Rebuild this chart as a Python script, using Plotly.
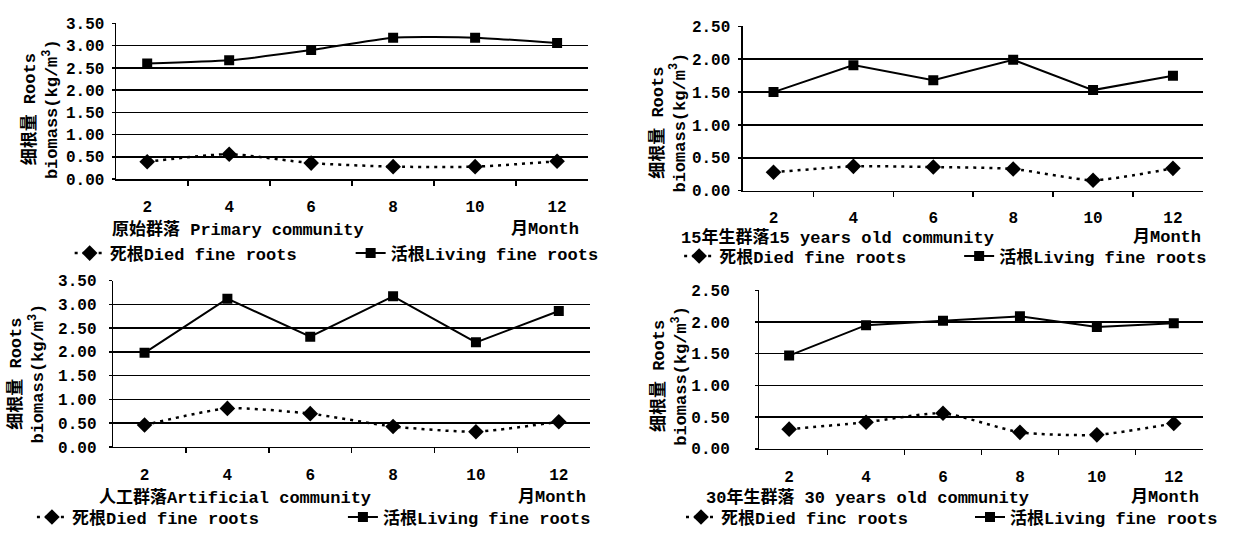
import plotly.graph_objects as go

W, H = 1259, 542

months = ["2", "4", "6", "8", "10", "12"]

p1_died = [0.39, 0.56, 0.36, 0.28, 0.28, 0.40]
p1_living = [2.60, 2.67, 2.90, 3.18, 3.18, 3.06]
p2_died = [0.28, 0.37, 0.36, 0.33, 0.16, 0.34]
p2_living = [1.50, 1.91, 1.68, 1.99, 1.53, 1.75]
p3_died = [0.46, 0.81, 0.70, 0.43, 0.32, 0.53]
p3_living = [1.98, 3.12, 2.32, 3.17, 2.20, 2.86]
p4_died = [0.31, 0.42, 0.56, 0.26, 0.22, 0.40]
p4_living = [1.47, 1.95, 2.02, 2.09, 1.92, 1.98]

titles = ["原始群落 Primary community", "15年生群落15 years old community",
          "人工群落Artificial community", "30年生群落 30 years old community"]
died_names = ["死根Died fine roots", "死根Died fine roots", "死根Died fine roots", "死根Died finc roots"]
living_name = "活根Living fine roots"
month_label = "月Month"
ytitle = "细根量 Roots<br>biomass(kg/m<sup>3</sup>)"

ticks_35 = [0, 0.5, 1.0, 1.5, 2.0, 2.5, 3.0, 3.5]
ticks_25 = [0, 0.5, 1.0, 1.5, 2.0, 2.5]

FONT = "Liberation Mono, Noto Sans CJK SC, monospace"

def px_x(v):
    return v / W

def px_y(v):
    return 1 - v / H

# panel geometry (pixels): x0, x1, ybottom, ytop
panels = [
    dict(x=(120, 608), y=(178, 17), ymax=3.5, ticks=ticks_35, died=p1_died, living=p1_living,
         living_shape="spline", standoff=4,
         title_pos=(114, 230), month_pos=(601, 230), yt_pos=(42, 106),
         leg_pos=(72, 255), entry=236),
    dict(x=(768, 1244), y=(190, 20), ymax=2.5, ticks=ticks_25, died=p2_died, living=p2_living,
         living_shape="linear", standoff=5,
         title_pos=(702, 238), month_pos=(1243, 238), yt_pos=(690, 120),
         leg_pos=(702, 258), entry=235),
    dict(x=(117, 610), y=(455, 283), ymax=3.5, ticks=ticks_35, died=p3_died, living=p3_living,
         living_shape="linear", standoff=9,
         title_pos=(100, 507), month_pos=(608, 507), yt_pos=(27, 379),
         leg_pos=(33, 528), entry=266),
    dict(x=(785, 1244), y=(457, 293), ymax=2.5, ticks=ticks_25, died=p4_died, living=p4_living,
         living_shape="linear", standoff=22,
         title_pos=(728, 507), month_pos=(1241, 507), yt_pos=(692, 381),
         leg_pos=(704, 528), entry=244),
]

fig = go.Figure()
layout = dict(
    width=W, height=H, margin=dict(l=0, r=0, t=0, b=0),
    paper_bgcolor="white", plot_bgcolor="white", showlegend=True,
    font=dict(family=FONT, size=15, color="black"),
)
annotations = []

for i, p in enumerate(panels):
    n = i + 1
    xa = "x" if n == 1 else f"x{n}"
    ya = "y" if n == 1 else f"y{n}"
    leg = "legend" if n == 1 else f"legend{n}"
    fig.add_trace(go.Scatter(
        x=months, y=p["died"], xaxis=xa, yaxis=ya, legend=leg,
        name=died_names[i], mode="lines+markers",
        line=dict(color="black", width=2.5, dash="3px,5px", shape="spline", smoothing=0.6),
        marker=dict(symbol="diamond", size=12, color="black"),
    ))
    fig.add_trace(go.Scatter(
        x=months, y=p["living"], xaxis=xa, yaxis=ya, legend=leg,
        name=living_name, mode="lines+markers",
        line=dict(color="black", width=2, shape=p["living_shape"], smoothing=0.5),
        marker=dict(symbol="square", size=10, color="black"),
    ))
    xdom = [px_x(p["x"][0]), px_x(p["x"][1])]
    ydom = [px_y(p["y"][0]), px_y(p["y"][1])]
    layout["xaxis" if n == 1 else f"xaxis{n}"] = dict(
        domain=xdom, anchor=ya, type="category", categoryorder="array", categoryarray=months,
        tickson="boundaries", ticks="outside", ticklen=5, tickwidth=1.5, tickcolor="black",
        showline=True, linecolor="black", linewidth=1.5, showgrid=False, zeroline=False,
        ticklabelstandoff=12,
        tickfont=dict(family=FONT, size=16, color="black", weight="bold"),
        fixedrange=True,
    )
    layout["yaxis" if n == 1 else f"yaxis{n}"] = dict(
        domain=ydom, anchor=xa, range=[0, p["ymax"]], tickvals=p["ticks"],
        ticktext=[f"{v:.2f}" for v in p["ticks"]],
        ticks="outside", ticklen=3, tickwidth=1.5, tickcolor="black",
        showline=True, linecolor="black", linewidth=1.5, showgrid=False, zeroline=False,
        ticklabelstandoff=p["standoff"],
        tickfont=dict(family=FONT, size=16, color="black", weight="bold"),
        fixedrange=True,
    )
    # grid-only overlay axis (gridlines at inner ticks, none at the top)
    m = n + 4
    layout[f"yaxis{m}"] = dict(
        overlaying=ya, anchor=xa, range=[0, p["ymax"]], tickvals=p["ticks"][1:-1],
        showticklabels=False, ticks="", showline=False, zeroline=False,
        showgrid=True, gridcolor="black", gridwidth=1.5, fixedrange=True,
    )
    lx, ly = p["leg_pos"]
    layout[leg] = dict(
        orientation="h", x=px_x(lx), y=px_y(ly), xanchor="left", yanchor="middle",
        bgcolor="rgba(0,0,0,0)", borderwidth=0, traceorder="normal",
        font=dict(family=FONT, size=17, color="black", weight="bold"),
        entrywidth=p["entry"], entrywidthmode="pixels", itemwidth=30,
    )
    tx, ty = p["title_pos"]
    annotations.append(dict(
        text=titles[i], x=px_x(tx), y=px_y(ty), xref="paper", yref="paper",
        xanchor="left", yanchor="middle", showarrow=False,
        font=dict(family=FONT, size=17, color="black", weight="bold"),
    ))
    mx, my = p["month_pos"]
    annotations.append(dict(
        text=month_label, x=px_x(mx), y=px_y(my), xref="paper", yref="paper",
        xanchor="right", yanchor="middle", showarrow=False,
        font=dict(family=FONT, size=17, color="black", weight="bold"),
    ))
    yx, yy = p["yt_pos"]
    annotations.append(dict(
        text=ytitle, x=px_x(yx), y=px_y(yy), xref="paper", yref="paper",
        xanchor="center", yanchor="middle", showarrow=False, textangle=-90,
        font=dict(family=FONT, size=17, color="black", weight="bold"),
    ))

# invisible traces so overlay axes are attached
for n in range(1, 5):
    xa = "x" if n == 1 else f"x{n}"
    fig.add_trace(go.Scatter(x=[], y=[], xaxis=xa, yaxis=f"y{n+4}", showlegend=False, hoverinfo="skip"))

layout["annotations"] = annotations
fig.update_layout(**layout)
fig.write_html(
    "out.html",
    config={"displayModeBar": False, "staticPlot": True},
    post_script=("document.documentElement.style.margin='0';"
                 "document.body.style.margin='0';document.body.style.padding='0';"
                 "document.body.style.overflow='hidden';"),
)
